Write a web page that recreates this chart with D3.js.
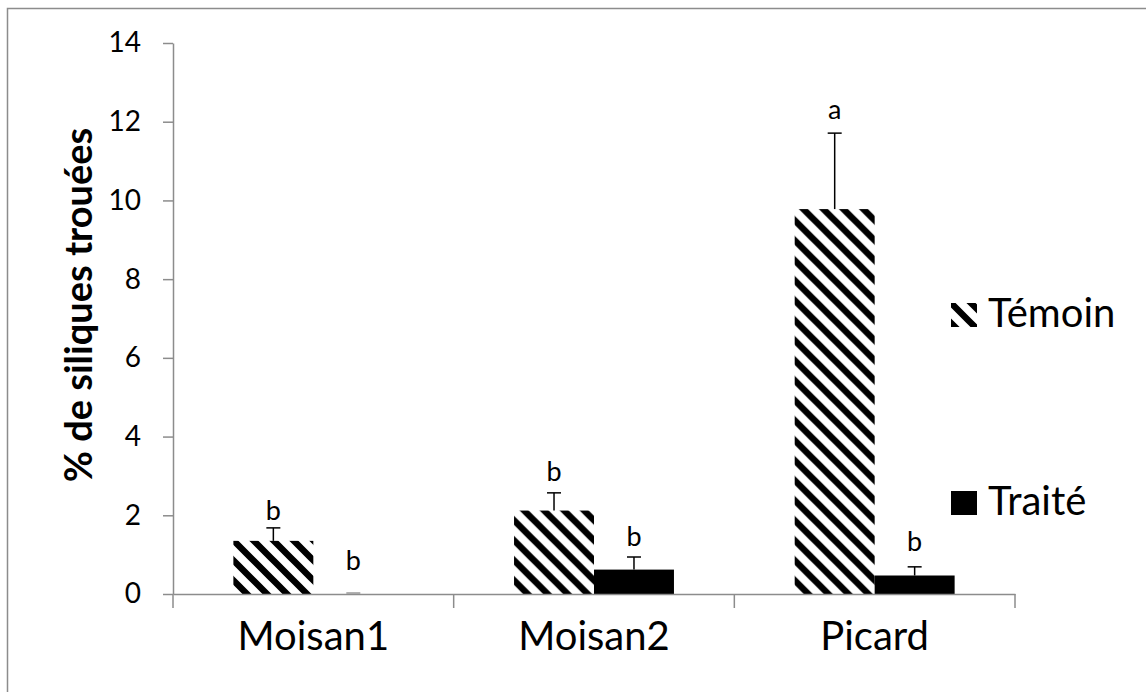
<!DOCTYPE html>
<html>
<head>
<meta charset="utf-8">
<script src="https://cdn.jsdelivr.net/npm/d3@7"></script>
<style>
  body { margin: 0; background: #fff; }
  text { font-family: Lato, "Open Sans", sans-serif; }
</style>
</head>
<body>
<div id="content"></div>
<script>
// data
const sites = ["Moisan1", "Moisan2", "Picard"];
const series = ["Témoin", "Traité"];
const temoin = [1.35, 2.12, 9.78];
const traite = [0, 0.62, 0.47];
const temoinErr = [0.33, 0.45, 1.93];
const traiteErr = [0, 0.32, 0.22];
const temoinLetters = ["b", "b", "a"];
const traiteLetters = ["b", "b", "b"];
// level (in % units) where each letter sits
const temoinLetterAt = [2.13, 3.1, 12.3];
const traiteLetterAt = [0.86, 1.45, 1.32];
const yTicks = [0, 2, 4, 6, 8, 10, 12, 14];

const W = 1146, H = 692;
const svg = d3.select("#content").append("svg")
    .attr("width", W).attr("height", H);

// hatch pattern (wide downward diagonal)
const defs = svg.append("defs");
const pat = defs.append("pattern")
    .attr("id", "hatch")
    .attr("patternUnits", "userSpaceOnUse")
    .attr("width", 20).attr("height", 20);
pat.append("rect").attr("width", 20).attr("height", 20).attr("fill", "#fff");
pat.append("path")
    .attr("d", "M-5,-5L25,25M-5,15L5,25M15,-5L25,5")
    .attr("stroke", "#000").attr("stroke-width", 6.5);

// outer frame
svg.append("rect")
    .attr("x", 7.5).attr("y", 8.5)
    .attr("width", 1160).attr("height", 700)
    .attr("fill", "none").attr("stroke", "#8c8c8c").attr("stroke-width", 1.5);

const y = d3.scaleLinear().domain([0, 14]).range([594, 43]);
const x0 = d3.scaleBand().domain(sites).range([173, 1015]);
const x1 = d3.scaleBand().domain(series).range([0, x0.bandwidth()]).paddingOuter(0.755);

const rows = sites.map((s, i) => ({
    site: s,
    bars: [
        {key: "Témoin", v: temoin[i], e: temoinErr[i], l: temoinLetters[i], la: temoinLetterAt[i]},
        {key: "Traité", v: traite[i], e: traiteErr[i], l: traiteLetters[i], la: traiteLetterAt[i]}
    ]
}));

const fills = {"Témoin": "url(#hatch)", "Traité": "#000"};

const groups = svg.selectAll("g.site")
    .data(rows)
    .enter().append("g")
    .attr("class", "site")
    .attr("transform", d => `translate(${x0(d.site)},0)`);

const bar = groups.selectAll("g.bar")
    .data(d => d.bars)
    .enter().append("g");

bar.append("rect")
    .attr("x", d => x1(d.key))
    .attr("y", d => y(d.v))
    .attr("width", x1.bandwidth())
    .attr("height", d => y(0) - y(d.v))
    .attr("fill", d => fills[d.key]);

// error bars (upper only)
bar.append("line")
    .attr("x1", d => x1(d.key) + x1.bandwidth() / 2)
    .attr("x2", d => x1(d.key) + x1.bandwidth() / 2)
    .attr("y1", d => y(d.v))
    .attr("y2", d => y(d.v + d.e))
    .attr("stroke", "#000").attr("stroke-width", 1.5);
bar.append("line")
    .attr("x1", d => x1(d.key) + x1.bandwidth() / 2 - 7)
    .attr("x2", d => x1(d.key) + x1.bandwidth() / 2 + 7)
    .attr("y1", d => y(d.v + d.e) - (d.e ? 0 : 1))
    .attr("y2", d => y(d.v + d.e) - (d.e ? 0 : 1))
    .attr("stroke", d => d.e ? "#000" : "#999").attr("stroke-width", 1.5);

bar.append("text")
    .attr("x", d => x1(d.key) + x1.bandwidth() / 2)
    .attr("y", d => y(d.la))
    .attr("dy", "0.35em")
    .attr("text-anchor", "middle")
    .style("font-size", "27px")
    .text(d => d.l);

// y axis
const yAxis = svg.append("g")
    .attr("transform", "translate(173,0)")
    .call(d3.axisLeft(y).tickValues(yTicks).tickSize(10).tickPadding(22).tickSizeOuter(0));
yAxis.select(".domain").attr("stroke", "#8c8c8c").attr("stroke-width", 1.5);
yAxis.selectAll(".tick line").attr("stroke", "#8c8c8c").attr("stroke-width", 1.5);
yAxis.selectAll(".tick text")
    .style("font-size", "28px").style("font-family", "Lato, sans-serif").attr("fill", "#000");

// x axis
const xAxis = svg.append("g")
    .attr("transform", `translate(0,${y(0)})`)
    .call(d3.axisBottom(x0).tickSize(0).tickPadding(28).tickSizeOuter(0));
xAxis.select(".domain").attr("stroke", "#8c8c8c").attr("stroke-width", 1.5);
xAxis.selectAll(".tick text")
    .style("font-size", "40px").style("font-family", "Lato, sans-serif").attr("fill", "#000");
xAxis.selectAll("line.bound")
    .data(sites.map(s => x0(s)).concat([x0.range()[1]]))
    .enter().append("line")
    .attr("class", "bound")
    .attr("x1", d => d).attr("x2", d => d)
    .attr("y1", 0).attr("y2", 14)
    .attr("stroke", "#8c8c8c").attr("stroke-width", 1.5);

// y title
svg.append("text")
    .attr("transform", "translate(92,305) rotate(-90)")
    .attr("text-anchor", "middle")
    .style("font-size", "38px").style("font-weight", "bold")
    .text("% de siliques trouées");

// legend
const leg = svg.selectAll("g.leg")
    .data(series)
    .enter().append("g")
    .attr("transform", (d, i) => `translate(951,${303 + i * 188})`);
leg.append("rect")
    .attr("width", 26).attr("height", 24)
    .attr("fill", d => fills[d]);
leg.append("text")
    .attr("x", 37).attr("y", 24)
    .style("font-size", "40px")
    .text(d => d);
</script>
</body>
</html>
